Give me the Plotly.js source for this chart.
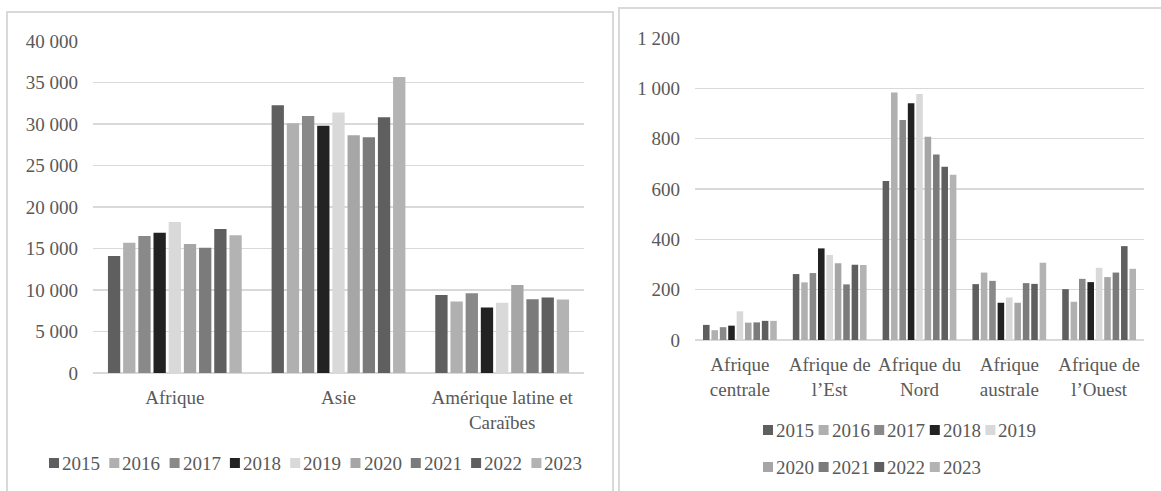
<!DOCTYPE html>
<html>
<head>
<meta charset="utf-8">
<script src="https://cdn.plot.ly/plotly-3.0.1.min.js"></script>
<style>
  html, body { margin: 0; padding: 0; width: 1161px; height: 491px; overflow: hidden; background: #ffffff; }
  .panel { position: absolute; border: 2px solid #d9d9d9; box-sizing: border-box; background: #ffffff; }
  .plot { position: absolute; top: 0; }
</style>
</head>
<body>
<div class="panel" style="left:6px; top:11px; width:608px; height:520px;"></div>
<div class="panel" style="left:618px; top:7px; width:560px; height:520px;"></div>
<div id="left" class="plot" style="left:0; width:613px; height:491px;"></div>
<div id="right" class="plot" style="left:613px; width:548px; height:491px;"></div>
<script>
// ---- Data ----
const years = ['2015', '2016', '2017', '2018', '2019', '2020', '2021', '2022', '2023'];
const colors = ['#5f5f5f', '#b0b0b0', '#898989', '#222222', '#d9d9d9', '#a6a6a6', '#7b7b7b', '#5f5f5f', '#b3b3b3'];

// Left chart: continents (values per year 2015..2023)
const leftCategories = ['Afrique', 'Asie', 'Amérique latine et<br>Caraïbes'];
const afrique  = [14100, 15700, 16500, 16900, 18200, 15550, 15100, 17350, 16600];
const asie     = [32250, 30100, 30950, 29800, 31400, 28650, 28400, 30800, 35650];
const amerique = [9400, 8600, 9600, 7900, 8450, 10600, 8900, 9100, 8850];
const leftTickVals = [0, 5000, 10000, 15000, 20000, 25000, 30000, 35000, 40000];

// Right chart: African sub-regions (values per year 2015..2023)
const rightCategories = ['Afrique<br>centrale', 'Afrique de<br>l’Est', 'Afrique du<br>Nord', 'Afrique<br>australe', 'Afrique de<br>l’Ouest'];
const centrale = [60, 39, 51, 57, 114, 69, 70, 76, 76];
const est      = [262, 229, 266, 364, 338, 305, 221, 299, 298];
const nord     = [632, 983, 874, 941, 977, 808, 737, 688, 657];
const australe = [222, 268, 235, 148, 169, 148, 226, 223, 307];
const ouest    = [202, 152, 243, 230, 287, 250, 268, 373, 283];
const rightTickVals = [0, 200, 400, 600, 800, 1000, 1200];

// ---- Helpers ----
const FONT = '"Liberation Serif", "Times New Roman", serif';
const TXT = '#595959';
const FS = 19;

function buildTraces(cats, seriesByCat) {
  return years.map((y, i) => ({
    type: 'bar',
    name: y,
    x: cats,
    y: seriesByCat.map(s => s[i]),
    marker: { color: colors[i], line: { width: 0 } },
    hoverinfo: 'skip'
  }));
}

// legend built from years/colors: squares (shapes) + labels (annotations)
// positions given in pixels relative to the bottom-left corner of the plot area
function legendItems(positions) {
  const shapes = [], annotations = [];
  years.forEach((y, i) => {
    const p = positions[i];
    shapes.push({
      type: 'rect', xref: 'paper', yref: 'paper',
      xsizemode: 'pixel', ysizemode: 'pixel', xanchor: 0, yanchor: 0,
      x0: p.dx, x1: p.dx + 10, y0: -p.dy - 5, y1: -p.dy + 5,
      fillcolor: colors[i], line: { width: 0 }
    });
    annotations.push({
      xref: 'paper', yref: 'paper', x: 0, y: 0,
      xshift: p.dx + 11, yshift: -p.dy,
      xanchor: 'left', yanchor: 'middle',
      text: y, showarrow: false,
      font: { family: FONT, size: FS, color: TXT }
    });
  });
  return { shapes, annotations };
}

function baseLayout(w, h, m, cats, range, tickvals, bargap, bargroupgap, leg) {
  return {
    width: w, height: h,
    margin: m,
    paper_bgcolor: 'rgba(0,0,0,0)',
    plot_bgcolor: 'rgba(0,0,0,0)',
    separators: ', ',
    showlegend: false,
    barmode: 'group',
    bargap: bargap,
    bargroupgap: bargroupgap,
    font: { family: FONT, size: FS, color: TXT },
    xaxis: {
      type: 'category',
      categoryarray: cats,
      tickvals: cats,
      showgrid: false,
      zeroline: false,
      showline: false,
      ticks: '',
      ticklabelstandoff: 11,
      tickfont: { family: FONT, size: FS, color: TXT },
      fixedrange: true
    },
    yaxis: {
      range: range,
      tickvals: tickvals,
      separatethousands: true,
      tickformat: ',d',
      showgrid: true,
      gridcolor: '#d9d9d9',
      gridwidth: 1.5,
      zeroline: true,
      zerolinecolor: '#d9d9d9',
      zerolinewidth: 1.5,
      showline: false,
      ticks: '',
      ticklabelstandoff: 14,
      tickfont: { family: FONT, size: FS, color: TXT },
      fixedrange: true
    },
    shapes: leg.shapes,
    annotations: leg.annotations
  };
}

// ---- Left chart ----
// plot area: x 93..584, y 41..373 (page px)
const leftLegPos = years.map((y, i) => ({ dx: 49 + i * 60.3 - 93, dy: 463 - 373 }));
Plotly.newPlot('left',
  buildTraces(leftCategories, [afrique, asie, amerique]),
  baseLayout(613, 491, { l: 93, r: 29, t: 41, b: 118, pad: 0 },
    leftCategories, [0, 40000], leftTickVals, 0.165, 0.19, legendItems(leftLegPos)),
  { staticPlot: true, displayModeBar: false });

// ---- Right chart ----
// plot area: x 695..1144, y 38..340 (page px); div starts at x=613
const rightLegPos = years.map((y, i) => ({
  dx: 763 + (i % 5) * 55.6 - 695,
  dy: (i < 5 ? 430 : 467) - 340
}));
Plotly.newPlot('right',
  buildTraces(rightCategories, [centrale, est, nord, australe, ouest]),
  baseLayout(548, 491, { l: 82, r: 17, t: 38, b: 151, pad: 0 },
    rightCategories, [0, 1200], rightTickVals, 0.158, 0.22, legendItems(rightLegPos)),
  { staticPlot: true, displayModeBar: false });
</script>
</body>
</html>
